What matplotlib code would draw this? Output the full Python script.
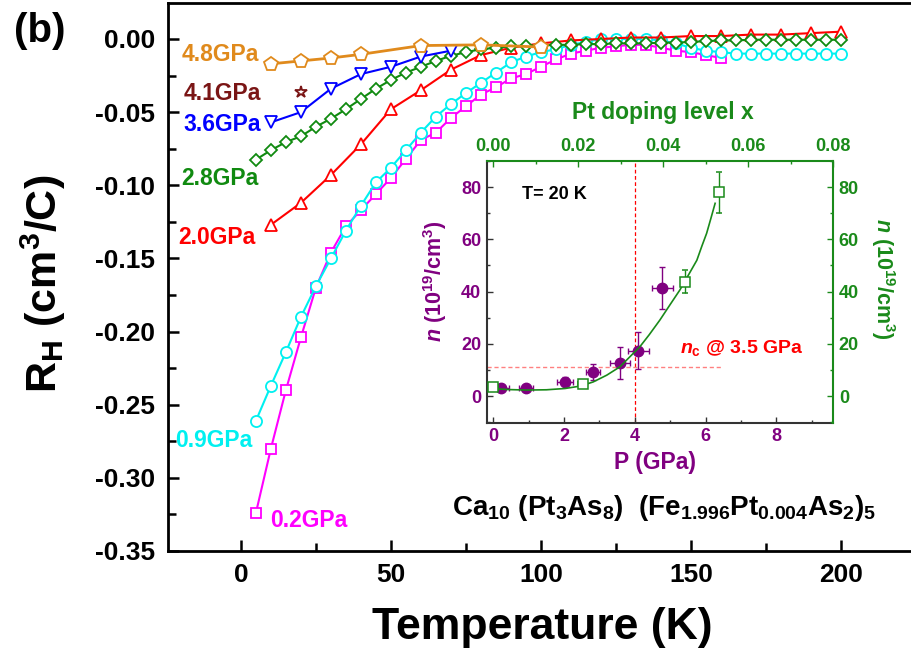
import matplotlib
matplotlib.use('Agg')
import matplotlib.pyplot as plt
from matplotlib.ticker import MultipleLocator

plt.rcParams['font.family'] = ['Liberation Sans', 'DejaVu Sans']
plt.rcParams['font.weight'] = 'bold'
plt.rcParams['mathtext.fontset'] = 'custom'
plt.rcParams['mathtext.rm'] = 'Liberation Sans:bold'
plt.rcParams['mathtext.it'] = 'Liberation Sans:italic:bold'
plt.rcParams['mathtext.bf'] = 'Liberation Sans:bold'
plt.rcParams['mathtext.default'] = 'rm'

# ---------------- main panel data ----------------
T_02 = [5, 10, 15, 20, 25, 30, 35, 40, 45, 50, 55, 60, 65, 70, 75, 80, 85, 90, 95, 100,
        105, 110, 115, 120, 125, 130, 135, 140, 145, 150, 155, 160]
RH_02 = [-0.324, -0.280, -0.240, -0.204, -0.170, -0.146, -0.128, -0.117, -0.106, -0.095,
         -0.082, -0.069, -0.064, -0.054, -0.046, -0.038, -0.033, -0.027, -0.024, -0.019,
         -0.014, -0.010, -0.008, -0.006, -0.005, -0.004, -0.004, -0.006, -0.008, -0.009,
         -0.011, -0.013]

T_09 = [5, 10, 15, 20, 25, 30, 35, 40, 45, 50, 55, 60, 65, 70, 75, 80, 85, 90, 95, 100,
        105, 110, 115, 120, 125, 130, 135, 140, 145, 150, 155, 160, 165, 170, 175, 180,
        185, 190, 195, 200]
RH_09 = [-0.261, -0.237, -0.214, -0.190, -0.169, -0.150, -0.131, -0.114, -0.098, -0.088,
         -0.076, -0.064, -0.053, -0.0445, -0.037, -0.030, -0.023, -0.016, -0.012, -0.009,
         -0.007, -0.004, -0.002, 0.000, 0.000, 0.000, 0.000, -0.001, -0.003, -0.006,
         -0.008, -0.009, -0.010, -0.010, -0.010, -0.010, -0.010, -0.010, -0.010, -0.010]

T_20 = [10, 20, 30, 40, 50, 60, 70, 80, 90, 100, 110, 120, 130, 140, 150, 160, 170, 180, 190, 200]
RH_20 = [-0.127, -0.112, -0.093, -0.072, -0.048, -0.035, -0.021, -0.011, -0.006, -0.003,
         -0.001, 0.000, 0.001, 0.001, 0.002, 0.002, 0.003, 0.003, 0.004, 0.005]

T_28 = [5, 10, 15, 20, 25, 30, 35, 40, 45, 50, 55, 60, 65, 70, 75, 80, 85, 90, 95, 100,
        105, 110, 115, 120, 125, 130, 135, 140, 145, 150, 155, 160, 165, 170, 175, 180,
        185, 190, 195, 200]
RH_28 = [-0.0825, -0.076, -0.0705, -0.0665, -0.060, -0.0545, -0.048, -0.041, -0.034, -0.028,
         -0.023, -0.019, -0.015, -0.0115, -0.009, -0.007, -0.006, -0.005, -0.0045, -0.0045,
         -0.004, -0.004, -0.0035, -0.0035, -0.003, -0.003, -0.003, -0.0025, -0.0025, -0.002,
         -0.0015, -0.001, -0.001, -0.0005, -0.0005, -0.0005, -0.0005, -0.0005, -0.0005, -0.0005]

T_36 = [10, 20, 30, 40, 50, 60, 70]
RH_36 = [-0.057, -0.050, -0.034, -0.024, -0.019, -0.012, -0.008]

T_41 = [20]
RH_41 = [-0.036]

T_48 = [10, 20, 30, 40, 60, 80, 100]
RH_48 = [-0.017, -0.015, -0.013, -0.0105, -0.0045, -0.004, -0.0055]

pressure_labels = ['4.8GPa', '4.1GPa', '3.6GPa', '2.8GPa', '2.0GPa', '0.9GPa', '0.2GPa']

# ---------------- inset data ----------------
P_hall = [0.22, 0.92, 2.02, 2.81, 3.58, 4.10, 4.78]
n_hall = [2.9, 2.9, 5.5, 9.3, 12.8, 17.4, 41.3]
P_hall_err = [0.22, 0.20, 0.22, 0.20, 0.28, 0.30, 0.31]
n_hall_err = [0.8, 0.8, 1.7, 3.0, 6.1, 7.0, 8.0]

x_dop = [0.000, 0.021, 0.045, 0.053]
n_dop = [3.3, 4.6, 43.8, 78.0]
x_dop_err = [0.001, 0.001, 0.0, 0.0]
n_dop_err = [1.2, 1.2, 4.3, 7.9]

x_fit = [-0.0004, 0.0033, 0.0079, 0.0125, 0.0169, 0.0204, 0.0235, 0.0267, 0.0298, 0.0345,
         0.0367, 0.0392, 0.0416, 0.0439, 0.0458, 0.0479, 0.0491, 0.0502, 0.0512, 0.0522]
n_fit = [2.9, 2.5, 2.3, 2.4, 2.9, 3.8, 5.4, 8.0, 11.2, 18.9,
         23.5, 29.1, 35.0, 40.6, 46.0, 52.0, 57.5, 62.3, 68.0, 73.8]

P_c = 4.0
n_c = 11.0

# ---------------- colours ----------------
c_mag = '#FF00FF'
c_cyan = '#00F0F0'
c_red = '#FF0000'
c_green = '#108A10'
c_blue = '#0000FF'
c_star = '#7A1515'
c_orange = '#E08A1C'
c_purple = '#800080'
c_ig = '#1A8A1A'

W, H = 912, 658
fig = plt.figure(figsize=(W / 100, H / 100), dpi=100)
ax = fig.add_axes([168 / W, 1 - 551 / H, (W - 168) / W, (551 - 3) / H])
ax.set_xlim(-24.3, 223.7)
ax.set_ylim(-0.35, 0.0246)

mk = dict(markerfacecolor='white', markeredgewidth=1.3, linewidth=1.5)
ax.plot(T_02, RH_02, '-s', color=c_mag, ms=6.5, zorder=3, **mk)
ax.plot(T_09, RH_09, '-o', color=c_cyan, ms=8, zorder=4, **mk)
ax.plot(T_20, RH_20, '-^', color=c_red, ms=9, zorder=5, **mk)
ax.plot(T_28, RH_28, '-D', color=c_green, ms=6.3, zorder=6, **mk)
ax.plot(T_36, RH_36, '-v', color=c_blue, ms=8.5, zorder=7, **mk)
mk2 = dict(mk); mk2['linewidth'] = 2.0
ax.plot(T_48, RH_48, '-p', color=c_orange, ms=10, zorder=8, **mk2)
ax.plot(T_41, RH_41, '*', color=c_star, ms=9, markerfacecolor='white', markeredgewidth=1.3, zorder=8)

lab_pos = [(-19.8, -0.0103), (-19.2, -0.0371), (-19.2, -0.0583), (-19.8, -0.0952),
           (-20.9, -0.1358), (-22.0, -0.2748), (9.7, -0.3294)]
lab_col = [c_orange, c_star, c_blue, c_green, c_red, c_cyan, c_mag]
for s, (x, y), c in zip(pressure_labels, lab_pos, lab_col):
    ax.text(x, y, s, color=c, fontsize=16.5, fontweight='bold', ha='left', va='center', zorder=9)

ax.text(70.3, -0.3206, 'Ca$_{10}$ (Pt$_3$As$_8$)  (Fe$_{1.996}$Pt$_{0.004}$As$_2$)$_5$',
        fontsize=20, ha='left', va='center', color='black')

ax.xaxis.set_major_locator(MultipleLocator(50))
ax.xaxis.set_minor_locator(MultipleLocator(25))
ax.yaxis.set_major_locator(MultipleLocator(0.05))
ax.yaxis.set_minor_locator(MultipleLocator(0.025))
ax.tick_params(which='both', direction='in', width=1.8, labelsize=19, pad=9)
ax.tick_params(which='major', length=8)
ax.tick_params(which='minor', length=6)
ax.yaxis.set_major_formatter(matplotlib.ticker.FuncFormatter(lambda v, p: f'{v:.2f}'.replace('-0.00', '0.00')))
for lab in ax.get_xticklabels() + ax.get_yticklabels():
    lab.set_fontweight('bold')
for sp in ['left', 'bottom', 'top']:
    ax.spines[sp].set_linewidth(2.0)
ax.spines['right'].set_visible(False)

fig.text(542 / W, 1 - 628 / H, 'Temperature (K)', fontsize=32, fontweight='bold', ha='center', va='center')
fig.text(43 / W, 1 - 284 / H, r'R$_\mathregular{H}$ (cm$^3$/C)', fontsize=31, fontweight='bold',
         ha='center', va='center', rotation=90)
fig.text(40 / W, 1 - 31 / H, '(b)', fontsize=29, fontweight='bold', ha='center', va='center')

# ---------------- inset ----------------
ipos = [486.7 / W, 1 - 422.7 / H, (833.3 - 486.7) / W, (422.7 - 161) / H]
axi = fig.add_axes(ipos)
axi.set_xlim(-0.186, 9.605)
axi.set_ylim(-10.2, 90)
axg = fig.add_axes(ipos, facecolor='none')
axg.set_xlim(-0.186 / 120.05, 9.605 / 120.05)
axg.set_ylim(-10.2, 90)

axi.axvline(P_c, color='red', lw=0.9, ls=(0, (3, 2)), zorder=1)
axi.plot([-0.186, 6.45], [n_c, n_c], color='#FF8080', lw=1.0, ls=(0, (3, 2)), zorder=1)
axi.errorbar(P_hall, n_hall, xerr=P_hall_err, yerr=n_hall_err, fmt='o', color=c_purple,
             ms=7.5, capsize=2.5, elinewidth=1.0, capthick=1.0, zorder=4)
axg.plot(x_fit, n_fit, '-', color=c_ig, lw=1.2, zorder=2)
axg.errorbar(x_dop, n_dop, xerr=x_dop_err, yerr=n_dop_err, fmt='s', color=c_ig,
             ms=6.5, mfc='white', mew=1.1, capsize=2.5, elinewidth=1.0, capthick=1.0, zorder=3)

axi.text(0.8, 77, 'T= 20 K', fontsize=13, fontweight='bold', ha='left', va='center')
axi.text(5.27, 18.3, r'$\mathit{n}_\mathregular{c}$ @ 3.5 GPa', fontsize=14, color='red',
         ha='left', va='center')

axi.xaxis.set_major_locator(MultipleLocator(2))
axi.xaxis.set_minor_locator(MultipleLocator(1))
axi.yaxis.set_major_locator(MultipleLocator(20))
axi.yaxis.set_minor_locator(MultipleLocator(10))
axi.tick_params(which='both', direction='in', colors='#333333', labelcolor=c_purple,
                labelsize=13, pad=4, width=1.0)
axi.tick_params(which='major', length=4)
axi.tick_params(which='minor', length=2.5)
for sp in ['top', 'right']:
    axi.spines[sp].set_visible(False)
for sp in ['left', 'bottom']:
    axi.spines[sp].set_color('#333333')
    axi.spines[sp].set_linewidth(1.5)

axg.xaxis.tick_top()
axg.yaxis.tick_right()
axg.xaxis.set_major_locator(MultipleLocator(0.02))
axg.xaxis.set_minor_locator(MultipleLocator(0.01))
axg.yaxis.set_major_locator(MultipleLocator(20))
axg.yaxis.set_minor_locator(MultipleLocator(10))
axg.xaxis.set_major_formatter(matplotlib.ticker.FuncFormatter(lambda v, p: f'{v:.2f}'))
axg.tick_params(which='both', direction='in', colors=c_ig, labelcolor=c_ig,
                labelsize=13, pad=4, width=1.0)
axg.tick_params(which='major', length=4)
axg.tick_params(which='minor', length=2.5)
for sp in ['left', 'bottom']:
    axg.spines[sp].set_visible(False)
for sp in ['top', 'right']:
    axg.spines[sp].set_color(c_ig)
    axg.spines[sp].set_linewidth(1.5)
for lab in axi.get_xticklabels() + axi.get_yticklabels() + axg.get_xticklabels() + axg.get_yticklabels():
    lab.set_fontweight('bold')

fig.text(655 / W, 1 - 463 / H, 'P (GPa)', fontsize=16.5, color=c_purple, ha='center', va='center')
fig.text(663 / W, 1 - 113 / H, 'Pt doping level x', fontsize=16.5, color=c_ig, ha='center', va='center')
fig.text(435 / W, 1 - 281 / H, r'$\mathit{n}$ (10$^{19}$/cm$^3$)', fontsize=15.5, color=c_purple,
         ha='center', va='center', rotation=90)
fig.text(883 / W, 1 - 279 / H, r'$\mathit{n}$ (10$^{19}$/cm$^3$)', fontsize=15.5, color=c_ig,
         ha='center', va='center', rotation=270)

fig.savefig('out.png', dpi=100)
